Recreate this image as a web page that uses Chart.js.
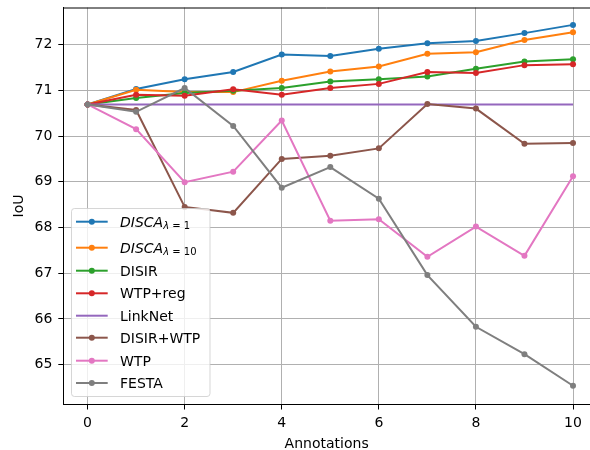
<!DOCTYPE html>
<html>
<head>
<meta charset="utf-8">
<script src="https://cdn.jsdelivr.net/npm/chart.js@4/dist/chart.umd.min.js"></script>
<style>
  html, body { margin: 0; padding: 0; background: #fff; }
  #wrap { width: 590px; height: 450px; }
</style>
</head>
<body>
<div id="wrap"><canvas id="chart" width="590" height="450"></canvas></div>
<script>
// values
const annotations = [0, 1, 2, 3, 4, 5, 6, 7, 8, 9, 10];
const discaL1 = [70.69, 71.03, 71.24, 71.40, 71.78, 71.75, 71.91, 72.03, 72.08, 72.25, 72.43];
const discaL10 = [70.69, 71.01, 70.96, 70.96, 71.21, 71.41, 71.52, 71.80, 71.83, 72.10, 72.27];
const disir = [70.69, 70.83, 70.94, 70.99, 71.05, 71.19, 71.24, 71.30, 71.47, 71.63, 71.68];
const wtpReg = [70.69, 70.90, 70.88, 71.02, 70.90, 71.05, 71.14, 71.40, 71.38, 71.55, 71.57];
const linkNet = [70.69, 70.69, 70.69, 70.69, 70.69, 70.69, 70.69, 70.69, 70.69, 70.69, 70.69];
const disirWtp = [70.69, 70.57, 68.45, 68.32, 69.50, 69.57, 69.73, 70.70, 70.60, 69.83, 69.85];
const wtp = [70.69, 70.15, 68.99, 69.22, 70.34, 68.15, 68.18, 67.36, 68.02, 67.38, 69.12];
const festa = [70.69, 70.53, 71.05, 70.22, 68.87, 69.32, 68.63, 66.96, 65.83, 65.23, 64.54];

const xTicks = [0, 2, 4, 6, 8, 10];
const yTicks = [65, 66, 67, 68, 69, 70, 71, 72];

// legend names, subscript part for the mathtext ones
const names = ["DISCA", "DISCA", "DISIR", "WTP+reg", "LinkNet", "DISIR+WTP", "WTP", "FESTA"];
const subs = ["λ = 1", "λ = 10", "", "", "", "", "", ""];
const colors = ["#1f77b4", "#ff7f0e", "#2ca02c", "#d62728", "#9467bd", "#8c564b", "#e377c2", "#7f7f7f"];
const series = [discaL1, discaL10, disir, wtpReg, linkNet, disirWtp, wtp, festa];
const hasMarker = [true, true, true, true, false, true, true, true];

const FONT = "'DejaVu Sans', sans-serif";

const toPoints = (vals) => vals.map((v, i) => ({ x: annotations[i], y: v }));

const datasets = series.map((vals, i) => ({
  label: names[i] + (subs[i] ? " " + subs[i] : ""),
  data: toPoints(vals),
  borderColor: colors[i],
  backgroundColor: colors[i],
  borderWidth: 2,
  pointRadius: hasMarker[i] ? 3 : 0,
  pointBorderWidth: 0,
  tension: 0,
  //matplotlib draws the last series on top
  order: series.length - 1 - i,
}));

// top frame line + legend box like matplotlib
const framePlugin = {
  id: "frame",
  afterDatasetsDraw(chart) {
    const ctx = chart.ctx;
    const a = chart.chartArea;
    ctx.save();
    ctx.strokeStyle = "#000";
    ctx.lineWidth = 1;
    ctx.beginPath();
    ctx.moveTo(a.left, a.top + 0.5);
    ctx.lineTo(a.right, a.top + 0.5);
    ctx.stroke();

    // legend
    ctx.fillStyle = "rgba(255,255,255,0.8)";
    ctx.strokeStyle = "rgba(204,204,204,0.8)";
    ctx.beginPath();
    ctx.roundRect(71.5, 208.5, 138.5, 188, 3);
    ctx.fill();
    ctx.stroke();

    const rows = [221.7, 247.7, 270.7, 293.3, 315.7, 337.7, 360.7, 383];
    rows.forEach((ry, i) => {
      ctx.strokeStyle = colors[i];
      ctx.lineWidth = 2;
      ctx.beginPath();
      ctx.moveTo(76, ry);
      ctx.lineTo(107.7, ry);
      ctx.stroke();
      if (hasMarker[i]) {
        ctx.fillStyle = colors[i];
        ctx.beginPath();
        ctx.arc(91.8, ry, 3, 0, Math.PI * 2);
        ctx.fill();
      }
      ctx.fillStyle = "#000";
      ctx.textBaseline = "alphabetic";
      ctx.textAlign = "left";
      if (subs[i]) {
        ctx.font = "italic 14px " + FONT;
        ctx.fillText(names[i], 120, ry + 5);
        const w = ctx.measureText(names[i]).width;
        ctx.font = "italic 10px " + FONT;
        ctx.fillText("λ", 120 + w, ry + 7.5);
        const lw = ctx.measureText("λ").width;
        ctx.font = "10px " + FONT;
        ctx.fillText(subs[i].slice(1), 120 + w + lw, ry + 7.5);
      } else {
        ctx.font = "14px " + FONT;
        ctx.fillText(names[i], 120, ry + 5);
      }
    });
    ctx.restore();
  },
};

const ctx = document.getElementById("chart").getContext("2d");

new Chart(ctx, {
  type: "line",
  data: { datasets },
  plugins: [framePlugin],
  options: {
    responsive: false,
    animation: false,
    layout: { autoPadding: false, padding: { top: 7.5, right: 0, bottom: 0, left: 0 } },
    plugins: { legend: { display: false }, tooltip: { enabled: false } },
    scales: {
      x: {
        type: "linear",
        min: -0.5,
        max: 10.35,
        afterBuildTicks: (scale) => { scale.ticks = xTicks.map((v) => ({ value: v })); },
        afterFit: (scale) => {
          scale.height = 45.5;
          scale.paddingLeft = 0;
          scale.paddingRight = 0;
        },
        ticks: { color: "#000", font: { family: FONT, size: 14 }, padding: 5, maxRotation: 0 },
        grid: { color: "#b0b0b0", lineWidth: 1, tickColor: "#000", tickLength: 5 },
        border: { color: "#000", width: 1 },
        title: { display: true, text: "Annotations", color: "#000", font: { family: FONT, size: 14 }, padding: { top: 0, bottom: -2.5 } },
      },
      y: {
        type: "linear",
        min: 64.13,
        max: 72.81,
        afterBuildTicks: (scale) => { scale.ticks = yTicks.map((v) => ({ value: v })); },
        afterFit: (scale) => {
          scale.width = 63.3;
          scale.paddingTop = 0;
          scale.paddingBottom = 0;
        },
        ticks: { color: "#000", font: { family: FONT, size: 14 }, padding: 6 },
        grid: { color: "#b0b0b0", lineWidth: 1, tickColor: "#000", tickLength: 5 },
        border: { color: "#000", width: 1 },
        title: { display: true, text: "IoU", color: "#000", font: { family: FONT, size: 14 }, padding: { top: 11, bottom: 0 } },
      },
    },
  },
});
</script>
</body>
</html>
